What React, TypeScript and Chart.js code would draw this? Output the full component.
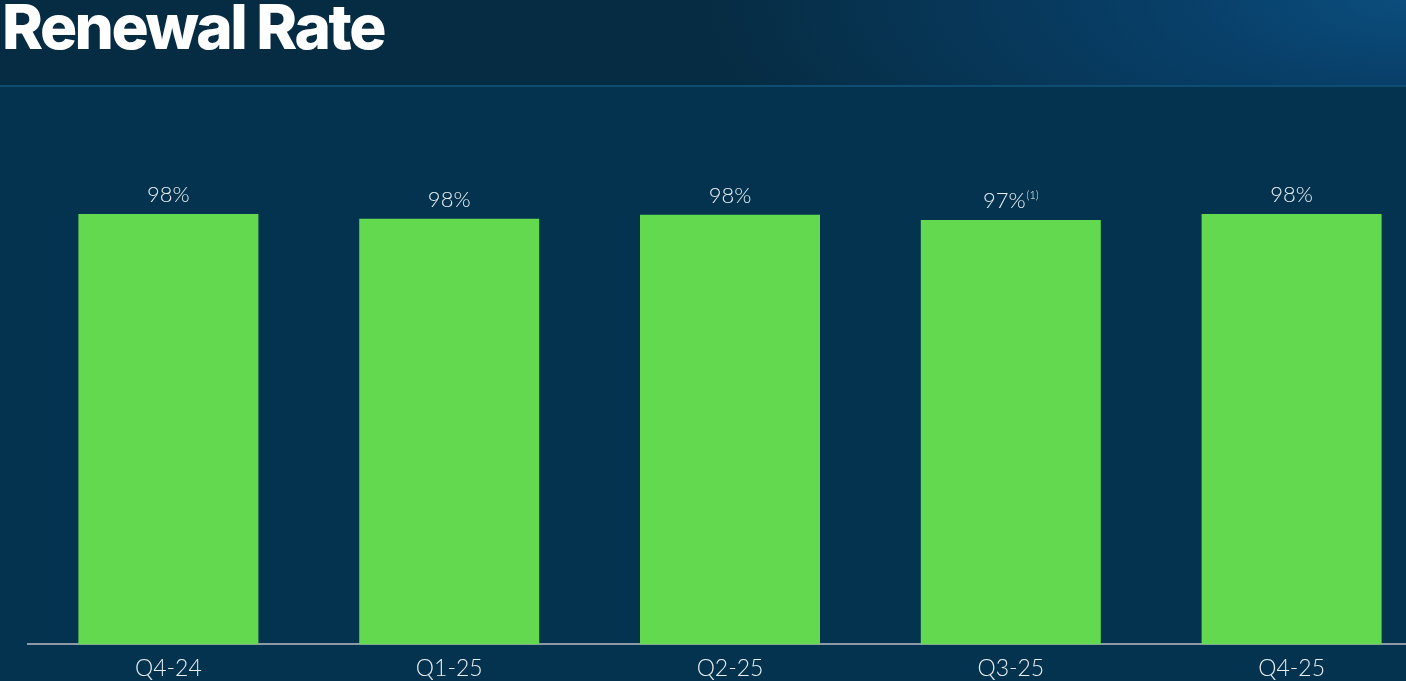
import React, { useEffect, useRef } from "react";
import { Chart, registerables } from "chart.js";

Chart.register(...registerables);

const categories = ["Q4-24", "Q1-25", "Q2-25", "Q3-25", "Q4-25"];
const renewalRate = [98.4, 97.3, 98.2, 97.0, 98.4];
const valueLabels = ["98%", "98%", "98%", "97%", "98%"];
const footnotes = ["", "", "", "(1)", ""];

const valueLabelPlugin = {
  id: "valueLabels",
  afterDatasetsDraw(chart: any) {
    const ctx = chart.ctx;
    const meta = chart.getDatasetMeta(0);
    ctx.save();
    meta.data.forEach((bar: any, i: number) => {
      const main = valueLabels[i];
      const sup = footnotes[i];
      ctx.font = "300 22px Lato, 'Open Sans', sans-serif";
      const mw = ctx.measureText(main).width;
      ctx.font = "300 11px Lato, 'Open Sans', sans-serif";
      const sw = sup ? ctx.measureText(sup).width + 1 : 0;
      const total = mw + sw;
      const x0 = bar.x - total / 2;
      const y = bar.y - 12;
      ctx.fillStyle = "#e9eff3";
      ctx.textBaseline = "alphabetic";
      ctx.textAlign = "left";
      ctx.font = "300 22px Lato, 'Open Sans', sans-serif";
      ctx.fillText(main, x0, y);
      if (sup) {
        ctx.font = "300 11px Lato, 'Open Sans', sans-serif";
        ctx.fillText(sup, x0 + mw + 1, y - 9);
      }
    });
    ctx.restore();
  },
};

function RenewalChart() {
  const ref = useRef<HTMLCanvasElement | null>(null);
  useEffect(() => {
    if (!ref.current) return;
    const chart = new Chart(ref.current, {
      type: "bar",
      data: {
        labels: categories,
        datasets: [
          {
            data: renewalRate,
            backgroundColor: "#62d94f",
            borderWidth: 0,
            categoryPercentage: 1,
            barPercentage: 0.641,
          },
        ],
      },
      options: {
        animation: false,
        responsive: false,
        maintainAspectRatio: false,
        layout: { padding: { left: 28, right: 8, top: 207, bottom: 0 } },
        plugins: {
          legend: { display: false },
          tooltip: { enabled: false },
          title: { display: false },
        },
        scales: {
          x: {
            grid: { display: false, drawTicks: false },
            border: { display: true, color: "#8c9aa6", width: 2 },
            ticks: {
              color: "#e9eff3",
              padding: 10,
              font: { family: "Lato, 'Open Sans', sans-serif", size: 23, weight: "300" as any },
            },
          },
          y: {
            display: false,
            min: 0,
            max: 100,
          },
        },
      },
      plugins: [valueLabelPlugin],
    });
    return () => chart.destroy();
  }, []);
  return (
    <canvas
      ref={ref}
      width={1440}
      height={692}
      style={{ position: "absolute", left: 0, top: 0, width: 1440, height: 692 }}
    />
  );
}

export default function App() {
  return (
    <div
      style={{
        position: "fixed",
        left: 0,
        top: 0,
        width: 1406,
        height: 681,
        overflow: "hidden",
        background: "#04334f",
      }}
    >
      <div
        style={{
          position: "absolute",
          left: 0,
          top: 0,
          width: 1406,
          height: 85,
          background:
            "radial-gradient(ellipse 700px 260px at 100% 0%, #0b4d7d 0%, #08406a 30%, #062c43 100%)",
          borderBottom: "2px solid #0f4d72",
        }}
      />
      <div
        style={{
          position: "absolute",
          left: 2,
          top: -11,
          fontFamily: "Inter, 'Open Sans', sans-serif",
          fontWeight: 800,
          fontSize: 62,
          letterSpacing: -2.5,
          color: "#ffffff",
          whiteSpace: "nowrap",
        }}
      >
        Renewal Rate
      </div>
      <RenewalChart />
    </div>
  );
}
